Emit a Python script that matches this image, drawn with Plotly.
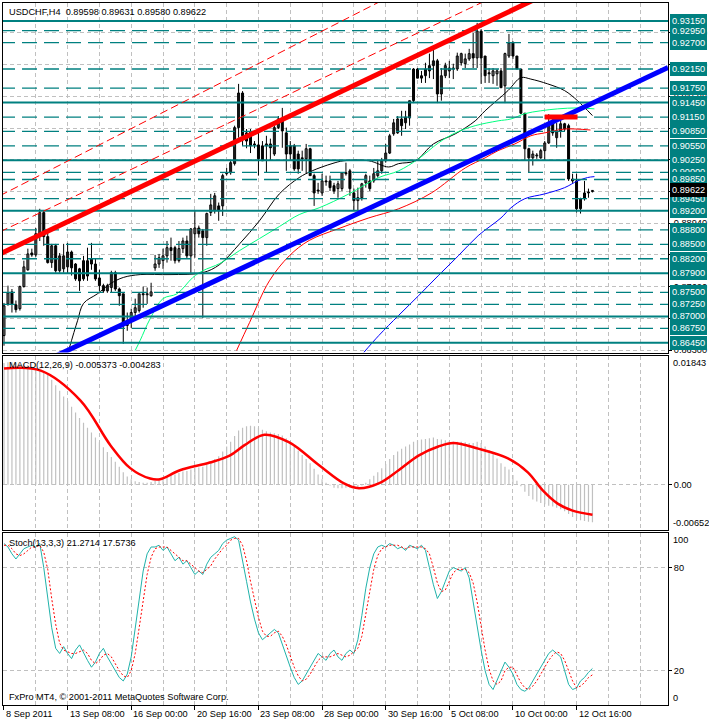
import plotly.graph_objects as go

# ---------------- DATA ----------------
x_tick_bars = [0, 16, 32, 48, 64, 80, 96, 112, 128, 144]
x_tick_labels = ["8 Sep 2011", "13 Sep 08:00", "16 Sep 00:00", "20 Sep 16:00", "23 Sep 08:00",
                 "28 Sep 00:00", "30 Sep 16:00", "5 Oct 08:00", "10 Oct 00:00", "12 Oct 16:00"]

opens = [0.8660,0.8726,0.8751,0.8724,0.8716,0.8762,0.8797,0.8832,0.8828,0.8868,
         0.8916,0.8866,0.8812,0.8847,0.8795,0.8799,0.8803,0.8834,0.8809,0.8799,
         0.8778,0.8784,0.8809,0.8809,0.8780,0.8764,0.8753,0.8760,0.8791,0.8757,
         0.8747,0.8681,0.8691,0.8708,0.8712,0.8747,0.8745,0.8743,0.8801,0.8809,
         0.8816,0.8826,0.8843,0.8843,0.8816,0.8841,0.8857,0.8826,0.8872,0.8884,
         0.8878,0.8864,0.8916,0.8920,0.8930,0.8930,0.8997,0.8999,0.9018,0.9093,
         0.9165,0.9065,0.9084,0.9059,0.9057,0.9055,0.9055,0.9059,0.9038,0.9093,
         0.9111,0.9082,0.9055,0.9055,0.9038,0.9030,0.9028,0.9049,0.8993,0.8963,
         0.8957,0.8982,0.8982,0.8972,0.8966,0.8966,0.8999,0.9003,0.8957,0.8941,
         0.8947,0.8978,0.8982,0.8982,0.8993,0.9003,0.9024,0.9040,0.9080,0.9082,
         0.9111,0.9103,0.9113,0.9149,0.9215,0.9196,0.9201,0.9211,0.9222,0.9232,
         0.9163,0.9201,0.9211,0.9215,0.9215,0.9228,0.9226,0.9236,0.9247,0.9238,
         0.9294,0.9242,0.9207,0.9201,0.9205,0.9211,0.9180,0.9242,0.9269,0.9242,
         0.9215,0.9123,0.9049,0.9030,0.9034,0.9030,0.9045,0.9061,0.9107,0.9072,
         0.9086,0.9101,0.9097,0.8986,0.8982,0.8924,0.8945,0.8957,0.89598]
highs = [0.8728,0.8764,0.8757,0.8733,0.8764,0.8816,0.8841,0.8841,0.8884,0.8924,
         0.8920,0.8874,0.8851,0.8851,0.8832,0.8851,0.8853,0.8837,0.8811,0.8801,
         0.8826,0.8843,0.8853,0.8820,0.8797,0.8768,0.8768,0.8795,0.8795,0.8760,
         0.8747,0.8708,0.8716,0.8737,0.8747,0.8762,0.8760,0.8770,0.8828,0.8830,
         0.8841,0.8857,0.8864,0.8847,0.8857,0.8864,0.8868,0.8884,0.8920,0.8889,
         0.8882,0.8916,0.8955,0.8957,0.8937,0.8997,0.9009,0.9024,0.9097,0.9184,
         0.9169,0.9090,0.9090,0.9065,0.9082,0.9065,0.9076,0.9070,0.9097,0.9117,
         0.9134,0.9093,0.9065,0.9059,0.9045,0.9045,0.9059,0.9051,0.8997,0.8978,
         0.8997,0.8993,0.8993,0.8978,0.8982,0.8999,0.9020,0.9007,0.8966,0.8968,
         0.8978,0.8997,0.8993,0.9009,0.9024,0.9030,0.9059,0.9080,0.9111,0.9117,
         0.9128,0.9128,0.9149,0.9217,0.9217,0.9211,0.9228,0.9247,0.9259,0.9236,
         0.9217,0.9228,0.9232,0.9226,0.9249,0.9249,0.9247,0.9257,0.9290,0.9311,
         0.9298,0.9242,0.9217,0.9217,0.9215,0.9217,0.9249,0.9288,0.9273,0.9242,
         0.9215,0.9123,0.9051,0.9045,0.9040,0.9049,0.9065,0.9121,0.9117,0.9103,
         0.9107,0.9103,0.9101,0.8997,0.8997,0.8947,0.8982,0.8966,0.89631]
lows = [0.8639,0.8722,0.8708,0.8708,0.8712,0.8760,0.8795,0.8824,0.8824,0.8857,
        0.8847,0.8810,0.8801,0.8791,0.8791,0.8791,0.8789,0.8785,0.8774,0.8753,
        0.8774,0.8774,0.8797,0.8774,0.8753,0.8749,0.8749,0.8749,0.8753,0.8722,
        0.8643,0.8670,0.8676,0.8691,0.8708,0.8718,0.8726,0.8741,0.8795,0.8801,
        0.8799,0.8812,0.8816,0.8810,0.8812,0.8832,0.8820,0.8789,0.8822,0.8864,
        0.8697,0.8847,0.8909,0.8914,0.8899,0.8909,0.8993,0.8995,0.9014,0.9072,
        0.9055,0.9050,0.9040,0.9050,0.8993,0.9024,0.8999,0.9024,0.9034,0.9090,
        0.9051,0.9003,0.9024,0.9003,0.8997,0.9003,0.8997,0.8993,0.8930,0.8955,
        0.8951,0.8972,0.8961,0.8955,0.8947,0.8961,0.8993,0.8951,0.8920,0.8920,
        0.8941,0.8968,0.8961,0.8978,0.8989,0.8997,0.9020,0.9038,0.9076,0.9080,
        0.9076,0.9090,0.9097,0.9144,0.9196,0.9186,0.9186,0.9196,0.9194,0.9144,
        0.9149,0.9196,0.9196,0.9194,0.9211,0.9222,0.9217,0.9232,0.9217,0.9217,
        0.9184,0.9186,0.9186,0.9184,0.9180,0.9176,0.9144,0.9238,0.9236,0.9215,
        0.9121,0.9024,0.8999,0.9014,0.9028,0.9028,0.9024,0.9059,0.9076,0.9051,
        0.9072,0.9086,0.8982,0.8978,0.8916,0.8914,0.8941,0.8947,0.89580]
closes = [0.8722,0.8749,0.8726,0.8714,0.8762,0.8803,0.8830,0.8828,0.8872,0.8916,
          0.8866,0.8812,0.8847,0.8795,0.8826,0.8826,0.8834,0.8801,0.8778,0.8774,
          0.8816,0.8816,0.8820,0.8778,0.8764,0.8753,0.8764,0.8791,0.8757,0.8743,
          0.8681,0.8687,0.8708,0.8718,0.8747,0.8745,0.8747,0.8751,0.8809,0.8822,
          0.8826,0.8843,0.8837,0.8816,0.8841,0.8857,0.8826,0.8882,0.8884,0.8872,
          0.8864,0.8914,0.8932,0.8951,0.8920,0.8993,0.8999,0.9020,0.9093,0.9165,
          0.9076,0.9082,0.9055,0.9057,0.9028,0.9024,0.9059,0.9051,0.9093,0.9111,
          0.9086,0.9038,0.9038,0.9007,0.9007,0.9028,0.9049,0.8993,0.8957,0.8961,
          0.8982,0.8980,0.8968,0.8961,0.8976,0.8999,0.8997,0.8966,0.8941,0.8947,
          0.8976,0.8993,0.8966,0.8997,0.9003,0.9024,0.9040,0.9076,0.9103,0.9111,
          0.9097,0.9115,0.9149,0.9215,0.9196,0.9201,0.9215,0.9222,0.9232,0.9163,
          0.9201,0.9222,0.9217,0.9217,0.9242,0.9247,0.9236,0.9247,0.9238,0.9294,
          0.9238,0.9201,0.9205,0.9211,0.9211,0.9176,0.9247,0.9269,0.9242,0.9215,
          0.9123,0.9049,0.9030,0.9038,0.9036,0.9045,0.9061,0.9101,0.9082,0.9086,
          0.9101,0.9090,0.8986,0.8982,0.8924,0.8945,0.8957,0.8959,0.89622]

# moving averages read at sample bars (bar index, price)
ma_black_bar = [16.25,18.5,20,23.5,26.75,30,34.25,41.75,50,54.25,59.25,64.25,69.25,74.25,77.5,82.5,85.5,91.75,96.75,99.25,103.5,108,113.5,118.5,121,126.75,130,132.5,136.75,141,144.25,148]
ma_black_val = [0.8629,0.8691,0.8727,0.8747,0.8768,0.8781,0.8787,0.8787,0.8791,0.8808,0.8851,0.8899,0.8955,0.8989,0.9003,0.9018,0.9024,0.9024,0.9011,0.9018,0.9024,0.9059,0.9080,0.9107,0.9128,0.9170,0.9197,0.9194,0.9184,0.9170,0.9149,0.9118]
ma_green_bar = [33,34.25,36.75,40,43.5,47.5,50,54.25,59.25,64.25,69.25,74.25,79.25,86.75,94.25,99.25,104.25,109.25,113.5,118.5,124.25,127.5,131,135,139.25,144.25,148.5]
ma_green_val = [0.8629,0.8650,0.8695,0.8737,0.8747,0.8781,0.8795,0.8810,0.8837,0.8862,0.8887,0.8912,0.8926,0.8955,0.8989,0.9003,0.9028,0.9061,0.9082,0.9097,0.9107,0.9111,0.9122,0.9128,0.9132,0.9134,0.9132]
ma_red_bar = [58.5,61.75,66.75,71.75,76.75,84.25,91.75,99.25,107.5,116,121,124.25,128.5,132.5,136,141,147.5]
ma_red_val = [0.8629,0.8687,0.8774,0.8826,0.8858,0.8883,0.8905,0.8924,0.8957,0.9009,0.9030,0.9045,0.9059,0.9076,0.9082,0.9090,0.9088]
ma_blue_bar = [90.5,94.25,99.25,104.25,109.25,114.25,119.25,125,127.5,131,136,141,144.25,146.75,148.5]
ma_blue_val = [0.8625,0.8660,0.8702,0.8743,0.8785,0.8826,0.8868,0.8905,0.8926,0.8945,0.8955,0.8968,0.8982,0.8989,0.8991]

# drawn objects
trend_bars = [-1, 167]
red_trend = [0.8830, 0.9492]
blue_trend = [0.8563, 0.9218]
channel_bars = [[-1, 167], [6, 54.25]]
channel_price = [[0.8876, 0.9538], [0.8981, 0.9185]]
red_segment_bars = [136, 144.25]
red_segment_price = [0.9115, 0.9115]
solid_levels = [0.9315, 0.9145, 0.9025, 0.8920, 0.8790, 0.8700, 0.8645]
dashed_levels = [0.9295, 0.9270, 0.9215, 0.9175, 0.9115, 0.9085, 0.9055, 0.9000, 0.8985,
                 0.8945, 0.8880, 0.8850, 0.8820, 0.8750, 0.8725, 0.8675]
current_price = 0.89622
price_grid = [0.8630, 0.8696, 0.8762, 0.8828, 0.8894, 0.8960, 0.9026, 0.9092, 0.9158, 0.9224, 0.9290]

macd_main = [0.0175,0.0176,0.0176,0.0175,0.0174,0.0173,0.0172,0.0170,0.0168,0.0168,
             0.0164,0.0158,0.0151,0.0143,0.0135,0.0127,0.0120,0.0112,0.0104,0.0096,
             0.0089,0.0082,0.0075,0.0068,0.0061,0.0054,0.0047,0.0040,0.0033,0.0026,
             0.0018,0.0012,0.0008,0.0005,0.0004,0.0003,0.0003,0.0004,0.0006,0.0008,
             0.0010,0.0012,0.0014,0.0015,0.0017,0.0019,0.0020,0.0022,0.0024,0.0025,
             0.0026,0.0029,0.0033,0.0037,0.0041,0.0048,0.0055,0.0062,0.0070,0.0078,
             0.0082,0.0084,0.0085,0.0084,0.0082,0.0079,0.0077,0.0075,0.0074,0.0073,
             0.0071,0.0067,0.0062,0.0056,0.0049,0.0043,0.0037,0.0031,0.0023,0.0015,
             0.0008,0.0003,-0.0001,-0.0004,-0.0005,-0.0005,-0.0004,-0.0004,-0.0005,-0.0004,
             -0.0001,0.0003,0.0008,0.0013,0.0018,0.0024,0.0030,0.0037,0.0043,0.0048,
             0.0052,0.0055,0.0058,0.0062,0.0064,0.0065,0.0066,0.0067,0.0068,0.0066,
             0.0065,0.0064,0.0063,0.0062,0.0062,0.0062,0.0061,0.0060,0.0060,0.0062,
             0.0060,0.0055,0.0050,0.0044,0.0038,0.0031,0.0026,0.0022,0.0014,0.0006,
             -0.0002,-0.0010,-0.0016,-0.0021,-0.0024,-0.0026,-0.0028,-0.0030,-0.0031,-0.0033,
             -0.0035,-0.0038,-0.0042,-0.0046,-0.0049,-0.0051,-0.0052,-0.0053,-0.005373]
macd_signal_bar = [0,9.25,19.25,26.75,31.75,36.75,39.25,44.25,51.75,56.75,60.5,65.5,71.75,79.25,85.5,89.25,94.25,99.25,104.25,109.25,113,119.25,126.75,131.75,135.5,139.25,143,148]
macd_signal_val = [0.0167,0.0164,0.0121,0.0057,0.0024,0.0009,0.0008,0.0021,0.0032,0.0042,0.0057,0.0072,0.0061,0.0028,0.0002,-0.0005,0.0002,0.0021,0.0042,0.0055,0.0060,0.0052,0.0038,0.0018,-0.0008,-0.0027,-0.0037,-0.004283]

stoch_main = [94,92,88,85,88,91,92,93,92,94,80,62,45,33,30,34,30,27,32,35,
              30,26,22,25,30,33,28,24,20,16,14,18,28,45,62,78,88,92,92,93,
              90,92,88,84,86,82,84,80,76,78,76,82,86,88,90,94,96,97,98,96,
              85,72,60,50,42,38,40,42,44,42,35,28,22,16,12,14,18,22,26,30,
              28,26,30,32,28,26,30,32,30,38,52,68,80,88,92,93,92,94,93,91,
              92,90,93,92,91,93,90,80,70,62,66,72,78,80,79,78,80,74,60,45,
              32,20,12,9,14,20,25,22,18,12,9,8,10,14,18,22,26,30,32,30,
              28,20,12,9,10,14,16,19,21.2714]
stoch_signal = [93,93,91,88,87,88,90,92,92,93,89,79,62,47,36,32,31,30,30,31,
                32,30,26,24,26,29,30,28,24,20,17,16,20,30,45,62,76,86,91,92,
                92,92,90,88,86,84,84,82,80,78,77,79,81,85,88,91,93,96,97,97,
                93,84,72,61,51,43,40,40,42,43,40,35,28,22,17,14,15,18,22,26,
                28,28,28,29,30,29,28,29,31,33,40,53,67,79,87,91,92,93,93,93,
                92,91,92,92,92,92,91,88,80,71,66,67,72,77,79,79,79,77,71,60,
                46,32,21,14,12,14,20,22,22,17,13,10,9,11,14,18,22,26,29,31,
                30,26,20,14,10,11,13,16,17.5736]

# ---------------- FIGURE ----------------
N = len(closes)
bars = list(range(N))
FONT = "Liberation Sans, Arial, sans-serif"
FS = 9.2
TEAL = "#008080"
GRID = "#c0c0c0"

fig = go.Figure()

# candles: wicks then bodies
wx, wy = [], []
for i, (h, l) in enumerate(zip(highs, lows)):
    wx += [i, i, None]
    wy += [l, h, None]
fig.add_trace(go.Scatter(x=wx, y=wy, mode="lines", line=dict(color="black", width=1),
                         xaxis="x", yaxis="y", hoverinfo="skip"))
body_base = [min(o, c) for o, c in zip(opens, closes)]
body_h = [max(abs(c - o), 0.00004) for o, c in zip(opens, closes)]
body_col = ["white" if c >= o else "black" for o, c in zip(opens, closes)]
fig.add_trace(go.Bar(x=bars, y=body_h, base=body_base, width=0.5,
                     marker=dict(color=body_col, line=dict(color="black", width=1)),
                     xaxis="x", yaxis="y", hoverinfo="skip"))

# moving averages
for bx, vy, col in [(ma_black_bar, ma_black_val, "black"), (ma_green_bar, ma_green_val, "#00ff7f"),
                    (ma_red_bar, ma_red_val, "red"), (ma_blue_bar, ma_blue_val, "blue")]:
    fig.add_trace(go.Scatter(x=bx, y=vy, mode="lines", line=dict(color=col, width=1, shape="spline"),
                             xaxis="x", yaxis="y", hoverinfo="skip"))

# horizontal levels
for lv in dashed_levels:
    fig.add_trace(go.Scatter(x=trend_bars, y=[lv, lv], mode="lines",
                             line=dict(color=TEAL, width=1.3, dash="15px,7px"),
                             xaxis="x", yaxis="y", hoverinfo="skip"))
for lv in solid_levels:
    fig.add_trace(go.Scatter(x=trend_bars, y=[lv, lv], mode="lines",
                             line=dict(color=TEAL, width=2),
                             xaxis="x", yaxis="y", hoverinfo="skip"))

# trend lines (dashed channel lines are extended as rays through their two anchors)
for bx, pr in zip(channel_bars, channel_price):
    slope = (pr[1] - pr[0]) / (bx[1] - bx[0])
    ex = [-1, 167]
    ey = [pr[0] + slope * (e - bx[0]) for e in ex]
    fig.add_trace(go.Scatter(x=ex, y=ey, mode="lines", line=dict(color="red", width=1, dash="8px,4px"),
                             xaxis="x", yaxis="y", hoverinfo="skip"))
fig.add_trace(go.Scatter(x=trend_bars, y=red_trend, mode="lines", line=dict(color="red", width=5),
                         xaxis="x", yaxis="y", hoverinfo="skip"))
fig.add_trace(go.Scatter(x=trend_bars, y=blue_trend, mode="lines", line=dict(color="blue", width=5),
                         xaxis="x", yaxis="y", hoverinfo="skip"))
fig.add_trace(go.Scatter(x=red_segment_bars, y=red_segment_price, mode="lines", line=dict(color="red", width=5),
                         xaxis="x", yaxis="y", hoverinfo="skip"))

# MACD
fig.add_trace(go.Bar(x=bars, y=macd_main, width=0.3, marker=dict(color=GRID, line=dict(width=0)),
                     xaxis="x2", yaxis="y2", hoverinfo="skip"))
fig.add_trace(go.Scatter(x=macd_signal_bar, y=macd_signal_val, mode="lines",
                         line=dict(color="red", width=2.5, shape="spline"),
                         xaxis="x2", yaxis="y2", hoverinfo="skip"))

# Stochastic
fig.add_trace(go.Scatter(x=bars, y=stoch_main, mode="lines", line=dict(color="#20b2aa", width=1),
                         xaxis="x3", yaxis="y3", hoverinfo="skip"))
fig.add_trace(go.Scatter(x=bars, y=stoch_signal, mode="lines", line=dict(color="red", width=1, dash="2px,2px"),
                         xaxis="x3", yaxis="y3", hoverinfo="skip"))

# ---------------- LAYOUT ----------------
TOTAL_H = 703.0
def py(pix):
    return (705.0 - pix) / TOTAL_H

major = x_tick_bars
minor = [b for b in range(8, 168, 8) if b not in major]
xcommon = dict(range=[-0.25, 167], showline=True, mirror=True, linecolor="black", linewidth=1,
               tickvals=major, showticklabels=False, showgrid=True, gridcolor=GRID,
               griddash="4px,3px", gridwidth=1, zeroline=False, fixedrange=True,
               minor=dict(tickvals=minor, showgrid=True, gridcolor=GRID, griddash="4px,3px", ticklen=0))
fig.update_layout(
    width=709, height=723, margin=dict(l=2, r=38, t=2, b=18),
    paper_bgcolor="white", plot_bgcolor="white", showlegend=False, barmode="overlay",
    font=dict(family=FONT, size=FS, color="black"),
    xaxis=dict(domain=[0, 1], anchor="y", ticks="", **xcommon),
    xaxis2=dict(domain=[0, 1], anchor="y2", ticks="", **xcommon),
    xaxis3=dict(domain=[0, 1], anchor="y3", ticks="outside", ticklen=4, tickcolor="black", **xcommon),
    yaxis=dict(domain=[py(352), 1], anchor="x", side="right", range=[0.86248, 0.93524],
               tickvals=price_grid, ticktext=[f"{v:.5f}" for v in price_grid],
               ticks="outside", ticklen=3, tickcolor="black", showgrid=True, gridcolor=GRID,
               griddash="4px,3px", showline=True, mirror=True, linecolor="black", zeroline=False,
               tickfont=dict(size=FS), fixedrange=True),
    yaxis2=dict(domain=[py(530), py(356)], anchor="x2", side="right", range=[-0.00652, 0.01843],
                tickvals=[0], ticktext=["0.00"], ticks="outside", ticklen=3, tickcolor="black",
                showgrid=True, gridcolor=GRID, griddash="4px,3px", showline=True, mirror=True,
                linecolor="black", zeroline=False, fixedrange=True),
    yaxis3=dict(domain=[0, py(533)], anchor="x3", side="right", range=[0, 100],
                tickvals=[20, 80], ticktext=["20", "80"], ticks="outside", ticklen=3, tickcolor="black",
                showgrid=True, gridcolor=GRID, griddash="4px,3px", showline=True, mirror=True,
                linecolor="black", zeroline=False, fixedrange=True),
)

ann = []
def label(text, x, y, **kw):
    d = dict(text=text, x=x, y=y, xref="paper", yref="paper", showarrow=False,
             xanchor="left", yanchor="middle", font=dict(family=FONT, size=FS, color="black"))
    d.update(kw)
    ann.append(d)

label("USDCHF,H4  0.89598 0.89631 0.89580 0.89622", 0, py(11), xshift=4)
label("MACD(12,26,9) -0.005373 -0.004283", 0, py(365), xshift=4)
label("Stoch(13,3,3) 21.2714 17.5736", 0, py(543), xshift=4)
label("FxPro MT4, © 2001-2011 MetaQuotes Software Corp.", 0, py(697), xshift=4)
label("0.01843", 1, 0.01843, yref="y2", yanchor="top", xshift=3)
label("-0.00652", 1, -0.00652, yref="y2", yanchor="bottom", xshift=3)
label("100", 1, 100, yref="y3", yanchor="top", xshift=3)
label("0", 1, 0, yref="y3", yanchor="bottom", xshift=3)
for b, t in zip(x_tick_bars, x_tick_labels):
    label(t, b, py(714), xref="x3", xshift=0)

all_levels = sorted(solid_levels + dashed_levels, reverse=True)
for lv in all_levels:
    label(f"{lv:.5f}", 1, lv, yref="y", xshift=2, bgcolor=TEAL, bordercolor=TEAL, borderwidth=1,
          borderpad=1, font=dict(family=FONT, size=FS, color="white"))
label(f"{current_price:.5f}", 1, current_price, yref="y", xshift=2, bgcolor="black", bordercolor="black",
      borderwidth=1, borderpad=1, font=dict(family=FONT, size=FS, color="white"))

fig.update_layout(annotations=ann)
fig.write_html("out.html", config={"displayModeBar": False, "staticPlot": True},
               post_script="document.body.style.margin='0px';document.body.style.overflow='hidden';")
